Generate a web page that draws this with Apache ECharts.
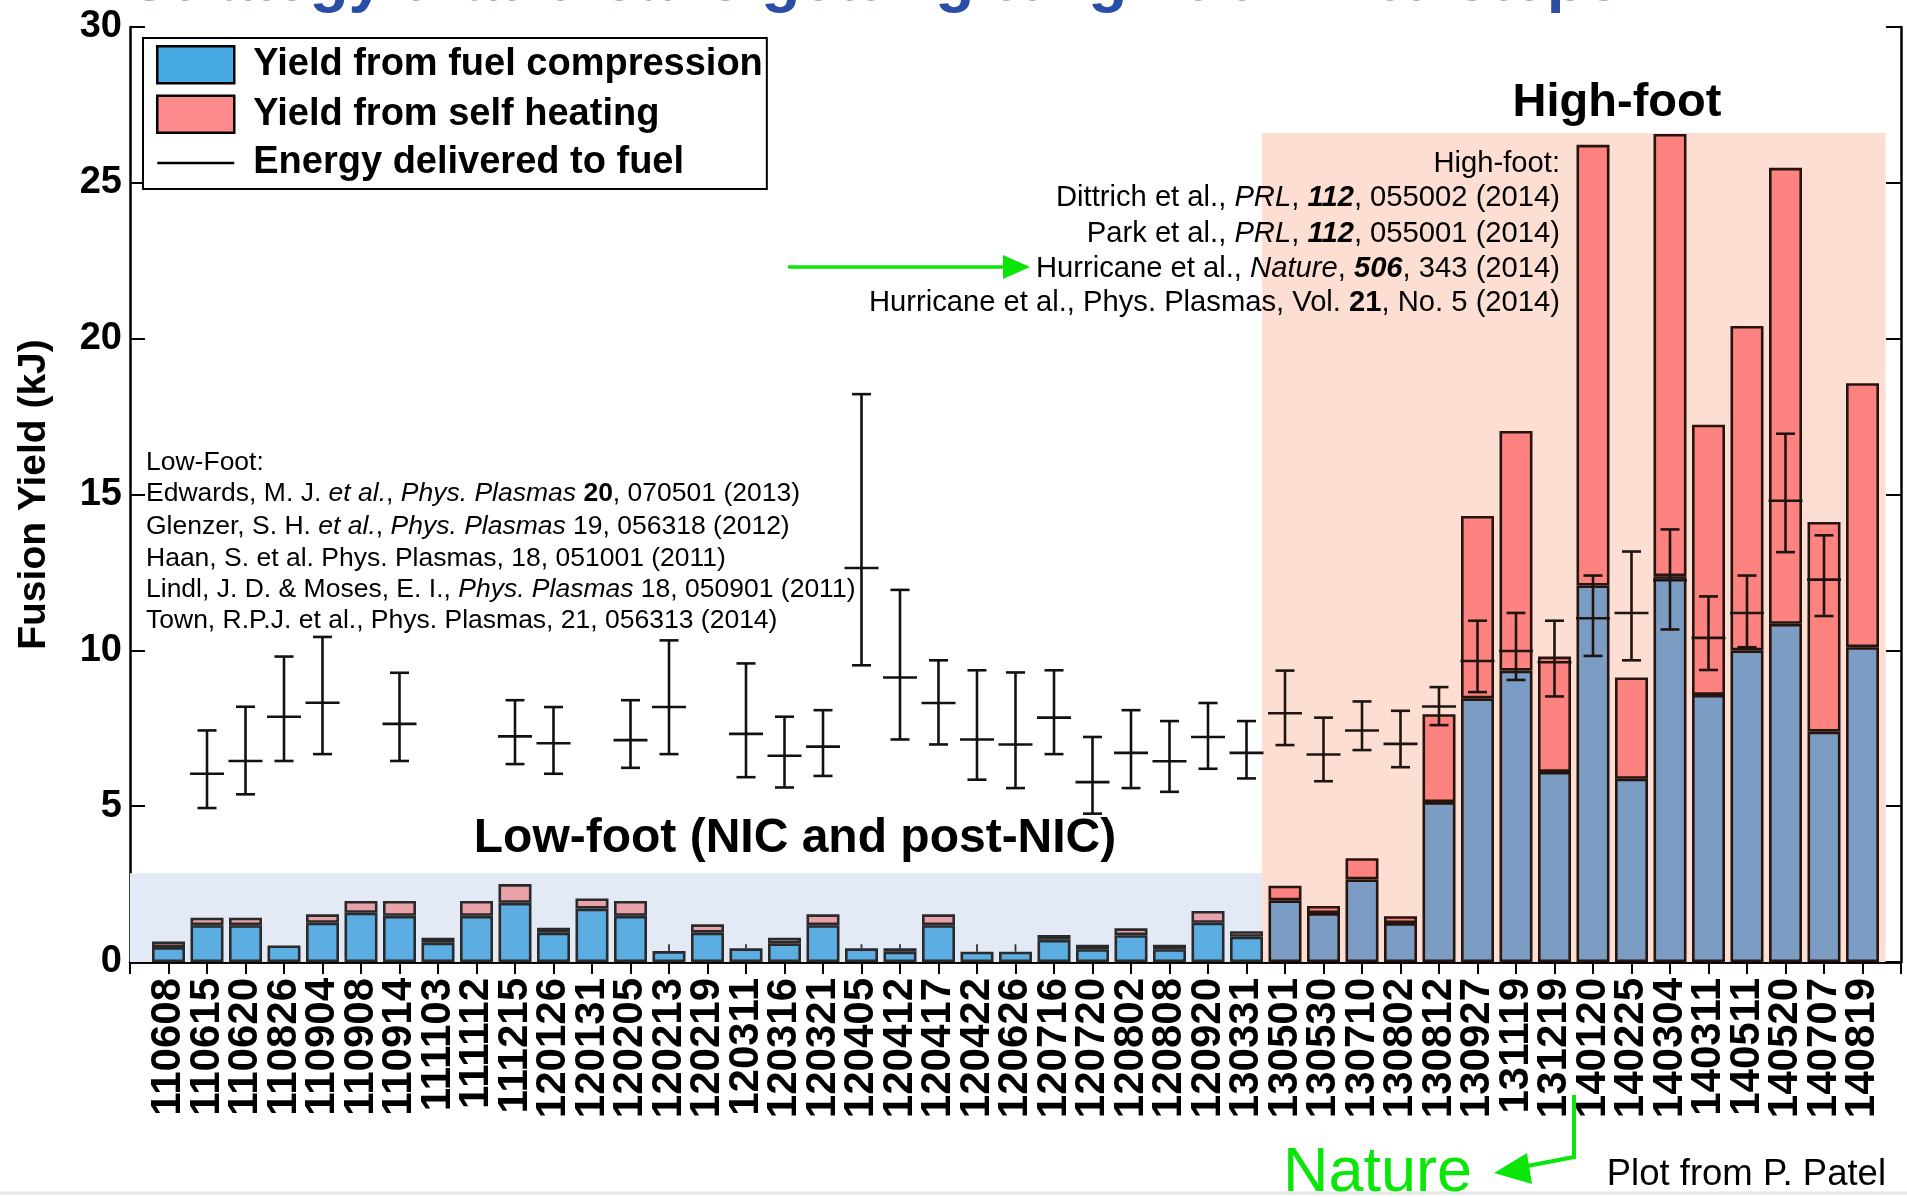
<!DOCTYPE html>
<html><head><meta charset="utf-8">
<script src="https://cdn.jsdelivr.net/npm/echarts@6/dist/echarts.min.js"></script>
<style>html,body{margin:0;padding:0;background:#fff}#chart{width:1907px;height:1197px}</style>
</head><body><div id="chart"></div>
<script>
// ---------------- data ----------------
const categories = ['110608','110615','110620','110826','110904','110908','110914','111103','111112','111215',
  '120126','120131','120205','120213','120219','120311','120316','120321','120405','120412',
  '120417','120422','120626','120716','120720','120802','120808','120920','130331','130501',
  '130530','130710','130802','130812','130927','131119','131219','140120','140225','140304',
  '140311','140511','140520','140707','140819'];
const compressionYield = [0.48,1.18,1.18,0.53,1.26,1.58,1.48,0.62,1.48,1.90,
  0.94,1.71,1.48,0.35,0.94,0.44,0.60,1.18,0.44,0.33,
  1.18,0.33,0.33,0.71,0.41,0.86,0.41,1.26,0.81,1.98,
  1.57,2.65,1.25,5.13,8.46,9.35,6.10,12.08,5.88,12.38,
  8.57,10.00,10.85,7.39,10.10];
const selfHeatingYield = [0.18,0.24,0.24,0,0.27,0.38,0.48,0.16,0.48,0.60,
  0.16,0.33,0.48,0,0.27,0,0.18,0.35,0,0.11,
  0.35,0,0,0.16,0.14,0.22,0.14,0.38,0.18,0.47,
  0.23,0.68,0.22,2.82,5.85,7.69,3.70,14.14,3.25,14.19,
  8.67,10.41,14.63,6.73,8.47];
const energyMid = [null,6.04,6.45,7.87,8.32,null,7.64,null,null,7.24,
  7.02,null,7.12,8.18,null,7.32,6.62,6.91,12.64,9.13,
  8.31,7.14,6.98,7.84,5.77,6.71,6.44,7.22,6.71,7.98,
  6.66,7.43,7.00,8.20,9.66,9.98,9.62,11.03,11.20,12.25,
  10.40,11.20,14.80,12.27,null];
const energyLow = [null,4.94,5.38,6.45,6.67,null,6.45,null,null,6.35,
  6.04,null,6.23,6.67,null,5.93,5.60,5.97,9.52,7.14,
  6.98,5.85,5.58,6.67,4.76,5.58,5.46,6.20,5.89,6.96,
  5.80,6.80,6.25,7.60,8.66,9.05,8.52,9.82,9.68,10.67,
  9.37,10.10,13.15,11.10,null];
const energyHigh = [null,7.43,8.19,9.80,10.43,null,9.28,null,null,8.40,
  8.18,null,8.40,10.32,null,9.58,7.87,8.08,18.22,11.94,
  9.68,9.36,9.29,9.36,7.22,8.08,7.73,8.31,7.73,9.35,
  7.84,8.36,8.06,8.82,10.95,11.20,10.95,12.40,13.17,13.88,
  11.73,12.40,16.95,13.69,null];
// small yield error ticks above a few tiny bars
const yieldErrTop = [null,null,null,null,null,null,null,null,null,null,
  null,null,null,0.57,null,0.57,null,null,0.57,0.57,
  null,0.57,0.57,null,null,null,null,null,null,null,
  null,null,null,null,null,null,null,null,null,null,
  null,null,null,null,null];
const yMin = 0, yMax = 30, yStep = 5;
const highFootStart = '130501';
const lowFootRegionTop = 2.85;
const highFootRegionTop = 26.6;

// ---------------- build ----------------
const FONT = "'Liberation Sans', Arial, Helvetica, sans-serif";
const axisCats = [''].concat(categories, ['']);
const nPos = axisCats.length - 1;
const hiIdx = categories.indexOf(highFootStart);
const isHigh = i => i >= hiIdx;

const blueLow = '#5BADE2', blueHigh = '#7B9DC3';
const redLow = '#E9A2AA', redHigh = '#FC8380';
const edgeLow = '#2a2a2a', edgeHigh = '#26140f';

function barData(arr, cLow, cHigh) {
  const out = ['-'];
  arr.forEach((v, i) => {
    if (!v) { out.push('-'); return; }
    out.push({ value: v, itemStyle: { color: isHigh(i) ? cHigh : cLow, borderColor: isHigh(i) ? edgeHigh : edgeLow } });
  });
  out.push('-');
  return out;
}
const energyData = [];
categories.forEach((c, i) => {
  if (energyMid[i] != null) energyData.push([i + 1, energyMid[i], energyLow[i], energyHigh[i]]);
});
const yErrData = [];
categories.forEach((c, i) => {
  if (yieldErrTop[i] != null) yErrData.push([i + 1, compressionYield[i] + selfHeatingYield[i], yieldErrTop[i]]);
});

const regionSplit = hiIdx + 1 - 0.6;
const regionEnd = categories.length + 0.6;

const axisLineStyle = { color: '#000', width: 2.5 };

const chart = echarts.init(document.getElementById('chart'), null, { renderer: 'canvas' });

function txt(x, y, text, size, opts) {
  opts = opts || {};
  return {
    type: 'text', x: x, y: y, z: 50,
    style: Object.assign({
      text: text, fontSize: size, fontFamily: FONT, fontWeight: opts.weight || 'normal',
      fill: opts.color || '#000',
      align: opts.align || 'left', verticalAlign: opts.va || 'middle',
      textAlign: opts.align || 'left', textVerticalAlign: opts.va || 'middle',
      rich: opts.rich
    })
  };
}
function richFor(size) {
  return {
    i: { fontSize: size, fontFamily: FONT, fontStyle: 'italic', fill: '#000', color: '#000' },
    b: { fontSize: size, fontFamily: FONT, fontWeight: 'bold', fill: '#000', color: '#000' },
    bi: { fontSize: size, fontFamily: FONT, fontWeight: 'bold', fontStyle: 'italic', fill: '#000', color: '#000' }
  };
}
const rLow = richFor(26.5), rHigh = richFor(29.2);
const green = '#0AE60A';

const graphic = [
  txt(128, 14, 'Strategy that breaks getting to ignition into steps', 64, { weight: 'bold', color: '#2A4EA6', va: 'bottom' }),
  txt(146, 463, 'Low-Foot:', 26.5),
  txt(146, 494, 'Edwards, M. J. {i|et al.}, {i|Phys. Plasmas} {b|20}, 070501 (2013)', 26.5, { rich: rLow }),
  txt(146, 527, 'Glenzer, S. H. {i|et al.}, {i|Phys. Plasmas} 19, 056318 (2012)', 26.5, { rich: rLow }),
  txt(146, 559, 'Haan, S. et al. Phys. Plasmas, 18, 051001 (2011)', 26.5, { rich: rLow }),
  txt(146, 590, 'Lindl, J. D. & Moses, E. I., {i|Phys. Plasmas} 18, 050901 (2011)', 26.5, { rich: rLow }),
  txt(146, 621, 'Town, R.P.J. et al., Phys. Plasmas, 21, 056313 (2014)', 26.5, { rich: rLow }),
  txt(1560, 164, 'High-foot:', 29.2, { align: 'right' }),
  txt(1560, 198, 'Dittrich et al., {i|PRL}, {bi|112}, 055002 (2014)', 29.2, { align: 'right', rich: rHigh }),
  txt(1560, 234, 'Park et al., {i|PRL}, {bi|112}, 055001 (2014)', 29.2, { align: 'right', rich: rHigh }),
  txt(1560, 269, 'Hurricane et al., {i|Nature}, {bi|506}, 343 (2014)', 29.2, { align: 'right', rich: rHigh }),
  txt(1560, 303, 'Hurricane et al., Phys. Plasmas, Vol. {b|21}, No. 5 (2014)', 29.2, { align: 'right', rich: rHigh }),
  txt(795, 839, 'Low-foot (NIC and post-NIC)', 48, { weight: 'bold', align: 'center' }),
  txt(1617, 103, 'High-foot', 47, { weight: 'bold', align: 'center' }),
  { type: 'line', z: 50, shape: { x1: 788, y1: 267, x2: 1008, y2: 267 }, style: { stroke: green, lineWidth: 3.5 } },
  { type: 'polygon', z: 50, shape: { points: [[1030, 267], [1003, 255], [1003, 279]] }, style: { fill: green } },
  txt(1283, 1174, 'Nature', 63, { color: green }),
  { type: 'polyline', z: 50, shape: { points: [[1574, 1095], [1574, 1157], [1522, 1167]] }, style: { stroke: green, lineWidth: 4, fill: null } },
  { type: 'polygon', z: 50, shape: { points: [[1494, 1173], [1527, 1153], [1532, 1184]] }, style: { fill: green } },
  txt(1886, 1175, 'Plot from P. Patel', 36.5, { align: 'right' }),
  { type: 'line', z: 1, shape: { x1: 0, y1: 1193, x2: 1907, y2: 1193 }, style: { stroke: '#e6e6e6', lineWidth: 3 } }
];

const option = {
  animation: false,
  backgroundColor: '#fff',
  grid: { left: 130, right: 6, top: 27, bottom: 235, containLabel: false, outerBoundsMode: 'none' },
  legend: {
    left: 143, top: 38, orient: 'vertical', selectedMode: false,
    padding: [7, 4, 7, 13], itemWidth: 77, itemHeight: 37, itemGap: 10,
    borderColor: '#000', borderWidth: 2, backgroundColor: '#fff',
    textStyle: { fontSize: 38, fontWeight: 'bold', fontFamily: FONT, color: '#000', padding: [0, 0, 0, 14] },
    data: [
      { name: 'Yield from fuel compression', icon: 'rect', itemStyle: { color: '#47A9E2', borderColor: '#000', borderWidth: 2.5 } },
      { name: 'Yield from self heating', icon: 'rect', itemStyle: { color: '#FF8A8E', borderColor: '#000', borderWidth: 2.5 } },
      { name: 'Energy delivered to fuel', icon: 'path://M0,0H64V2.2H0Z', itemStyle: { color: '#000', borderWidth: 0 } }
    ]
  },
  xAxis: [
    { type: 'category', data: axisCats, boundaryGap: false, position: 'bottom',
      axisLine: { lineStyle: axisLineStyle }, axisTick: { show: false },
      axisLabel: { interval: 0, rotate: 90, fontSize: 42, fontWeight: 'bold', fontFamily: FONT, color: '#000', margin: 16 },
      splitLine: { show: false } },
    { type: 'category', data: axisCats, boundaryGap: false, position: 'top',
      axisLine: { lineStyle: axisLineStyle },
      axisTick: { show: true, inside: true, length: 12, interval: 0, lineStyle: { color: '#000', width: 2 } },
      axisLabel: { show: false, interval: 0 }, splitLine: { show: false } },
    { type: 'value', min: 0, max: nPos, show: false, splitLine: { show: false } }
  ],
  yAxis: [
    { type: 'value', min: yMin, max: yMax, interval: yStep, position: 'left',
      axisLine: { show: true, lineStyle: axisLineStyle },
      axisTick: { show: true, inside: true, length: 15, lineStyle: { color: '#000', width: 2 } },
      axisLabel: { fontSize: 38, fontWeight: 'bold', fontFamily: FONT, color: '#000', margin: 8 },
      splitLine: { show: false },
      name: 'Fusion Yield (kJ)', nameLocation: 'middle', nameGap: 76,
      nameTextStyle: { fontSize: 39, fontWeight: 'bold', fontFamily: FONT, color: '#000' } },
    { type: 'value', min: yMin, max: yMax, interval: yStep, position: 'right',
      axisLine: { show: true, lineStyle: axisLineStyle },
      axisTick: { show: true, inside: true, length: 15, lineStyle: { color: '#000', width: 2 } },
      axisLabel: { show: false }, splitLine: { show: false } }
  ],
  series: [
    { type: 'line', name: '_regions', xAxisIndex: 2, yAxisIndex: 0, z: 1, silent: true,
      data: [[0, 0]], symbol: 'none', lineStyle: { opacity: 0 },
      markArea: { silent: true, label: { show: false },
        data: [
          [{ xAxis: 0, yAxis: 0, itemStyle: { color: '#E3E9F5' } }, { xAxis: regionSplit, yAxis: lowFootRegionTop }],
          [{ xAxis: regionSplit, yAxis: 0, itemStyle: { color: '#FDDED2' } }, { xAxis: regionEnd, yAxis: highFootRegionTop }]
        ] } },
    { type: 'bar', name: 'Yield from fuel compression', stack: 'yield', barWidth: 33, z: 3,
      itemStyle: { borderWidth: 2.6 }, data: barData(compressionYield, blueLow, blueHigh) },
    { type: 'bar', name: 'Yield from self heating', stack: 'yield', barWidth: 33, z: 3,
      itemStyle: { borderWidth: 2.6 }, data: barData(selfHeatingYield, redLow, redHigh) },
    { type: 'custom', name: 'Energy delivered to fuel', z: 5, silent: true,
      encode: { x: 0, y: [1, 2, 3] }, data: energyData,
      renderItem: function (params, api) {
        const xi = api.value(0);
        const pm = api.coord([xi, api.value(1)]);
        const pl = api.coord([xi, api.value(2)]);
        const ph = api.coord([xi, api.value(3)]);
        const cap = 9.5, half = 17;
        const st = { stroke: xi - 1 >= hiIdx ? '#1e1410' : '#111', lineWidth: 2.6 };
        return { type: 'group', children: [
          { type: 'line', shape: { x1: pm[0], y1: pl[1], x2: pm[0], y2: ph[1] }, style: st },
          { type: 'line', shape: { x1: pm[0] - cap, y1: ph[1], x2: pm[0] + cap, y2: ph[1] }, style: st },
          { type: 'line', shape: { x1: pm[0] - cap, y1: pl[1], x2: pm[0] + cap, y2: pl[1] }, style: st },
          { type: 'line', shape: { x1: pm[0] - half, y1: pm[1], x2: pm[0] + half, y2: pm[1] }, style: st }
        ] };
      } },
    { type: 'custom', name: '_yerr', z: 5, silent: true,
      encode: { x: 0, y: [1, 2] }, data: yErrData,
      renderItem: function (params, api) {
        const xi = api.value(0);
        const p0 = api.coord([xi, api.value(1)]);
        const p1 = api.coord([xi, api.value(2)]);
        return { type: 'line', shape: { x1: p0[0], y1: p0[1], x2: p1[0], y2: p1[1] }, style: { stroke: '#333', lineWidth: 1.8 } };
      } }
  ],
  graphic: graphic
};
chart.setOption(option);
</script>
</body></html>
